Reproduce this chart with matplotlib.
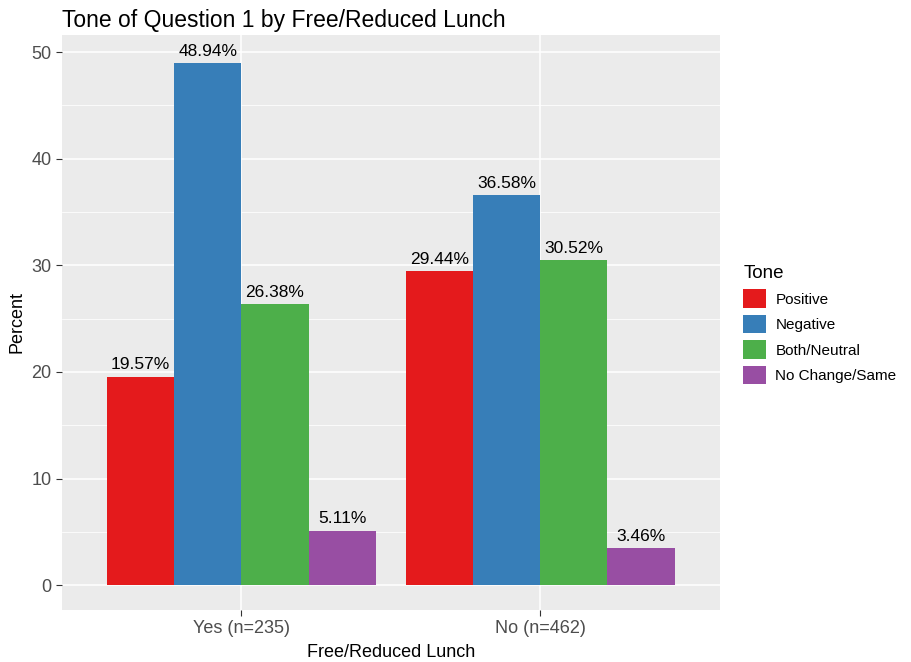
import matplotlib.pyplot as plt
from matplotlib.patches import Patch
import numpy as np

plt.rcParams["font.family"] = ["Liberation Sans", "DejaVu Sans"]

# data
groups = ["Yes (n=235)", "No (n=462)"]
tones = ["Positive", "Negative", "Both/Neutral", "No Change/Same"]
positive = [19.57, 29.44]
negative = [48.94, 36.58]
neutral = [26.38, 30.52]
nochange = [5.11, 3.46]
colors = ["#E41A1C", "#377EB8", "#4DAF4A", "#984EA3"]

series = [positive, negative, neutral, nochange]

fig = plt.figure(figsize=(9.12, 6.62), dpi=100)
ax = fig.add_axes([0.068, 0.079, 0.721, 0.868])
ax.set_facecolor("#EBEBEB")

x = np.arange(1, len(groups) + 1)
w = 0.9 / len(tones)
for i, vals in enumerate(series):
    pos = x - 0.45 + w / 2 + i * w
    ax.bar(pos, vals, width=w, color=colors[i], zorder=3)
    for p, v in zip(pos, vals):
        ax.text(p, v + 0.4, f"{v:.2f}%", ha="center", va="bottom", fontsize=12.5, zorder=4)

ax.set_xlim(0.4, 2.6)
ax.set_ylim(-2.3, 51.6)
ax.set_yticks(range(0, 51, 10))
ax.set_yticks(range(5, 51, 10), minor=True)
ax.set_xticks(x)
ax.set_xticklabels(groups)
ax.grid(which="major", color="white", linewidth=1.1, zorder=0)
ax.grid(which="minor", axis="y", color="white", linewidth=0.55, zorder=0)
ax.tick_params(which="both", length=4, color="#333333", labelsize=13, labelcolor="#4D4D4D")
ax.tick_params(which="minor", length=0)
for s in ax.spines.values():
    s.set_visible(False)

ax.set_xlabel("Free/Reduced Lunch", fontsize=13, labelpad=5)
ax.set_ylabel("Percent", fontsize=13)
ax.set_title("Tone of Question 1 by Free/Reduced Lunch", fontsize=16.5, loc="left", x=0.0, pad=6)

handles = [Patch(facecolor=c, label=t) for c, t in zip(colors, tones)]
leg = fig.legend(handles=handles, title="Tone", loc="upper left", bbox_to_anchor=(0.8, 0.62),
                 frameon=False, fontsize=11, title_fontsize=13.5, handlelength=1.5,
                 handleheight=1.5, labelspacing=0.45, handletextpad=0.6)
leg._legend_box.align = "left"

fig.savefig("out.png", dpi=100)
